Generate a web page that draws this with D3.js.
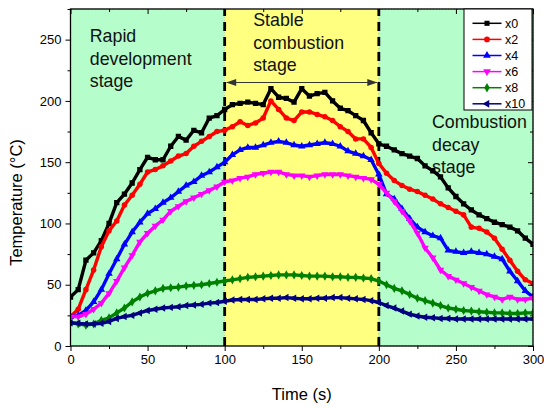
<!DOCTYPE html>
<html>
<head>
<meta charset="utf-8">
<script src="https://cdn.jsdelivr.net/npm/d3@7"></script>
<style>
  body { margin: 0; background: #fff; }
  text { font-family: "Liberation Sans", Arial, sans-serif; }
</style>
</head>
<body>
<div id="chart"></div>
<script>
/* CONSTANTS AND GLOBALS */
const width = 544,
  height = 408,
  margin = { top: 9, bottom: 62, left: 70.5, right: 11 };

// time axis, every 5 s
const times = d3.range(0, 301, 5);

const x0 = [40, 46, 70, 76, 86, 100, 117, 124, 133, 144, 154, 152, 152, 163, 171, 168, 176, 174, 186, 188,
  193, 197, 198, 199, 198, 197, 210, 203, 202, 199, 210, 204, 206, 207, 200, 194, 192, 188, 184, 174,
  165, 163, 160, 157, 155, 153, 147, 143, 138, 129, 122, 116, 111, 107, 104, 101, 99, 97, 94, 88, 83];
const x2 = [24, 30, 46, 62, 81, 94, 102, 115, 123, 132, 142, 144, 147, 151, 155, 157, 163, 167, 171, 175,
  176, 179, 183, 180, 182, 186, 200, 193, 186, 184, 191, 191, 189, 187, 184, 179, 175, 169, 169, 162,
  149, 141, 135, 131, 128, 126, 123, 120, 116, 113, 110, 107, 97, 96, 93, 88, 79, 70, 61, 54, 51];
const x4 = [24, 25, 29, 36, 46, 59, 71, 83, 93, 101, 108, 112, 117, 121, 126, 131, 134, 139, 142, 146,
  150, 156, 160, 162, 162, 164, 166, 167, 166, 164, 163, 164, 165, 166, 165, 163, 159, 157, 155, 152,
  140, 124, 120, 112, 104, 97, 93, 90, 88, 78, 77, 76, 77, 76, 75, 73, 71, 61, 53, 45, 40];
const x6 = [24, 24, 26, 30, 35, 43, 53, 64, 74, 85, 92, 98, 103, 110, 114, 118, 121, 124, 127, 130,
  134, 135, 137, 138, 140, 141, 142, 142, 140, 139, 139, 138, 139, 140, 140, 140, 139, 138, 137, 136,
  132, 125, 118, 110, 102, 92, 80, 72, 62, 57, 54, 51, 48, 45, 42, 40, 38, 40, 38, 38, 39];
const x8 = [19, 18, 17, 18, 21, 23, 27, 31, 36, 40, 43, 45, 47, 47.5, 48, 49, 49.5, 50, 51, 52,
  53, 54, 55, 56, 56.5, 57, 57.5, 58, 58, 58, 57.5, 57, 57, 57, 56.5, 56.5, 56, 56, 55.5, 55,
  53, 50, 47, 45, 42, 39, 37, 35, 33, 31, 30, 29, 28.5, 28, 27.5, 27, 27, 26.5, 26.5, 27, 27];
const x10 = [19, 18.5, 18, 18, 18.5, 20, 22.5, 24, 25, 27, 29, 30, 31, 31.5, 32, 33, 33.5, 34, 35, 35.5,
  36.5, 37.5, 38, 38, 38, 38.5, 39, 39, 39.5, 39, 38.5, 38.5, 39, 39, 39.5, 39.5, 39, 38.5, 38, 37,
  35.5, 33, 31, 28.5, 26, 24.5, 23.5, 23, 22.5, 22.5, 22, 22, 22, 22, 22, 22, 22, 22, 22, 22, 22];

const seriesNames = ["x0", "x2", "x4", "x6", "x8", "x10"];
const seriesValues = [x0, x2, x4, x6, x8, x10];
const colors = ["#000000", "#ff0000", "#0000ff", "#ff00ff", "#008000", "#000080"];
const symbols = [d3.symbolSquare, d3.symbolCircle, d3.symbolTriangle, d3.symbolTriangle, d3.symbolDiamond, d3.symbolTriangle];
const symbolRotate = [0, 0, 0, 180, 0, -90];

const xTicks = [0, 50, 100, 150, 200, 250, 300];
const yTicks = [0, 50, 100, 150, 200, 250];
const stages = [
  { from: 0, to: 100, fill: "#b5fdca" },
  { from: 100, to: 200, fill: "#ffff80" },
  { from: 200, to: 300, fill: "#b5fdca" }
];
const stageLabels = [
  { t: 12.5, v: 248, lines: ["Rapid", "development", "stage"] },
  { t: 118.5, v: 261, lines: ["Stable", "combustion", "stage"] },
  { t: 234.5, v: 177.5, lines: ["Combustion", "decay", "stage"] }
];

/* SCALES */
const xScale = d3.scaleLinear()
  .domain([0, 300])
  .range([margin.left, width - margin.right]);
const yScale = d3.scaleLinear()
  .domain([0, 275])
  .range([height - margin.bottom, margin.top]);

const svg = d3.select("#chart")
  .append("svg")
  .attr("width", width)
  .attr("height", height);

svg.append("defs").append("clipPath")
  .attr("id", "plot-clip")
  .append("rect")
  .attr("x", xScale(0))
  .attr("y", yScale(275))
  .attr("width", xScale(300) - xScale(0))
  .attr("height", yScale(0) - yScale(275));

// stage backgrounds
svg.selectAll(".stage")
  .data(stages)
  .join("rect")
  .attr("class", "stage")
  .attr("x", d => xScale(d.from))
  .attr("y", yScale(275))
  .attr("width", d => xScale(d.to) - xScale(d.from))
  .attr("height", yScale(0) - yScale(275))
  .attr("fill", d => d.fill)
  .attr("stroke", (d, i) => i === 1 ? "none" : "#3a9a3a")
  .attr("stroke-width", 0.6)
  .attr("stroke-dasharray", "1,2");

// dashed stage boundaries
svg.selectAll(".boundary")
  .data([100, 200])
  .join("line")
  .attr("class", "boundary")
  .attr("x1", d => xScale(d))
  .attr("x2", d => xScale(d))
  .attr("y1", yScale(0))
  .attr("y2", yScale(275))
  .attr("stroke", "#000")
  .attr("stroke-width", 2.8)
  .attr("stroke-dasharray", "9,6");

// double arrow across the stable stage
svg.append("line")
  .attr("x1", xScale(100) + 2)
  .attr("x2", xScale(200) - 2)
  .attr("y1", yScale(215))
  .attr("y2", yScale(215))
  .attr("stroke", "#333")
  .attr("stroke-width", 1);
svg.selectAll(".arrowhead")
  .data([{ t: 100, dir: 1 }, { t: 200, dir: -1 }])
  .join("path")
  .attr("class", "arrowhead")
  .attr("fill", "#333")
  .attr("d", d => {
    const x = xScale(d.t) + d.dir * 1.5, y = yScale(215);
    return `M${x},${y}L${x + d.dir * 10},${y - 3.5}L${x + d.dir * 10},${y + 3.5}Z`;
  });

// stage labels
stageLabels.forEach(s => {
  const txt = svg.append("text")
    .attr("x", xScale(s.t))
    .attr("y", yScale(s.v))
    .attr("font-size", 17.8)
    .attr("fill", "#111");
  s.lines.forEach((l, i) => {
    txt.append("tspan")
      .attr("x", xScale(s.t))
      .attr("dy", i === 0 ? 0 : 22.5)
      .text(l);
  });
});

/* LINES + MARKERS */
const lineGen = d3.line()
  .x((d, i) => xScale(times[i]))
  .y(d => yScale(d));

const plot = svg.append("g").attr("clip-path", "url(#plot-clip)");

seriesValues.forEach((vals, k) => {
  const g = plot.append("g").attr("class", "series");
  g.append("path")
    .datum(vals)
    .attr("fill", "none")
    .attr("stroke", colors[k])
    .attr("stroke-width", 3.4)
    .attr("stroke-linejoin", "round")
    .attr("d", lineGen);
  g.selectAll("path.mk")
    .data(vals)
    .join("path")
    .attr("class", "mk")
    .attr("fill", colors[k])
    .attr("d", d3.symbol().type(symbols[k]).size(k === 0 ? 28 : 24))
    .attr("transform", (d, i) => `translate(${xScale(times[i])},${yScale(d)}) rotate(${symbolRotate[k]})`);
});

/* AXES */
const minorX = d3.range(0, 301, 25).filter(d => d % 50 !== 0);
const minorY = d3.range(0, 276, 25).filter(d => d % 50 !== 0);

const xAxisGroup = svg.append("g")
  .attr("transform", `translate(0, ${yScale(0)})`)
  .call(d3.axisBottom(xScale).tickValues(xTicks).tickSize(5).tickPadding(4));
svg.append("g")
  .attr("transform", `translate(0, ${yScale(0)})`)
  .call(d3.axisBottom(xScale).tickValues(minorX).tickSize(3).tickFormat(""));

const yAxisGroup = svg.append("g")
  .attr("transform", `translate(${xScale(0)}, 0)`)
  .call(d3.axisLeft(yScale).tickValues(yTicks).tickSize(5).tickPadding(4));
svg.append("g")
  .attr("transform", `translate(${xScale(0)}, 0)`)
  .call(d3.axisLeft(yScale).tickValues(minorY).tickSize(3).tickFormat(""));

// top + right mirrored inward ticks
svg.append("g")
  .attr("transform", `translate(0, ${yScale(275)})`)
  .call(d3.axisBottom(xScale).tickValues(xTicks).tickSize(5).tickFormat(""));
svg.append("g")
  .attr("transform", `translate(0, ${yScale(275)})`)
  .call(d3.axisBottom(xScale).tickValues(minorX).tickSize(3).tickFormat(""));
svg.append("g")
  .attr("transform", `translate(${xScale(300)}, 0)`)
  .call(d3.axisLeft(yScale).tickValues(yTicks).tickSize(5).tickFormat(""));
svg.append("g")
  .attr("transform", `translate(${xScale(300)}, 0)`)
  .call(d3.axisLeft(yScale).tickValues(minorY).tickSize(3).tickFormat(""));

svg.selectAll(".domain").attr("stroke", "none");
svg.selectAll(".tick line").attr("stroke", "#000").attr("stroke-width", 1);
svg.selectAll(".tick text")
  .attr("font-size", 13)
  .attr("font-family", "Liberation Sans, Arial, sans-serif")
  .attr("fill", "#000");

// frame
svg.append("rect")
  .attr("x", xScale(0))
  .attr("y", yScale(275))
  .attr("width", xScale(300) - xScale(0))
  .attr("height", yScale(0) - yScale(275))
  .attr("fill", "none")
  .attr("stroke", "#000")
  .attr("stroke-width", 1.3);

xAxisGroup.append("text")
  .attr("x", (xScale(0) + xScale(300)) / 2)
  .attr("y", 54)
  .attr("text-anchor", "middle")
  .attr("font-size", 16.5)
  .attr("fill", "#000")
  .text("Time (s)");

yAxisGroup.append("text")
  .attr("transform", `translate(${-49}, ${(yScale(0) + yScale(275)) / 2 + 25}) rotate(-90)`)
  .attr("text-anchor", "middle")
  .attr("font-size", 16.5)
  .attr("fill", "#000")
  .text("Temperature (°C)");

/* LEGEND */
const legend = svg.append("g")
  .attr("transform", `translate(${464}, ${9})`);
legend.append("rect")
  .attr("width", 68)
  .attr("height", 101)
  .attr("fill", "#fff")
  .attr("stroke", "#000")
  .attr("stroke-width", 1);

const items = legend.selectAll(".item")
  .data(seriesNames)
  .join("g")
  .attr("class", "item")
  .attr("transform", (d, i) => `translate(0, ${14.3 + i * 16.1})`);
items.append("line")
  .attr("x1", 8.5)
  .attr("x2", 37.5)
  .attr("stroke", (d, i) => colors[i])
  .attr("stroke-width", 1.5);
items.append("path")
  .attr("fill", (d, i) => colors[i])
  .attr("d", (d, i) => d3.symbol().type(symbols[i]).size(26)())
  .attr("transform", (d, i) => `translate(23, 0) rotate(${symbolRotate[i]})`);
items.append("text")
  .attr("x", 41)
  .attr("dy", "0.36em")
  .attr("font-size", 12.5)
  .attr("fill", "#000")
  .text(d => d);
</script>
</body>
</html>
